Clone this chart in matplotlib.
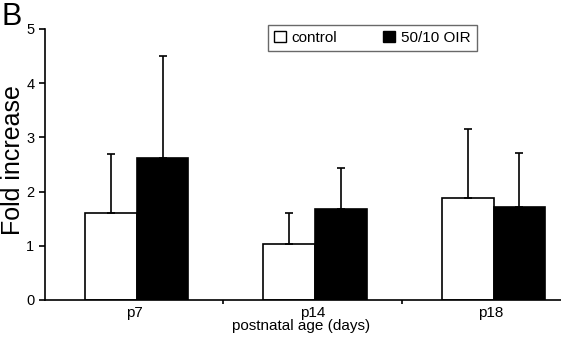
import numpy as np
import matplotlib
matplotlib.use("Agg")
import matplotlib.pyplot as plt
from matplotlib.patches import Patch

plt.rcParams['font.family'] = ['Liberation Sans', 'DejaVu Sans']

groups = ['p7', 'p14', 'p18']
control = [1.60, 1.04, 1.88]
control_err = [1.09, 0.56, 1.27]
oir = [2.61, 1.68, 1.71]
oir_err = [1.89, 0.75, 1.00]

fig = plt.figure(figsize=(5.61, 3.44), dpi=100)
ax = fig.add_axes([0.080, 0.128, 0.954, 0.788])

x = np.arange(len(groups)) + 0.5
w = 0.29
lw = 1.2
ax.bar(x - w / 2 + 0.015, control, w, color='white', edgecolor='black', linewidth=lw,
       yerr=[np.zeros(3), control_err], error_kw=dict(ecolor='black', elinewidth=lw, capsize=3, capthick=lw))
ax.bar(x + w / 2 + 0.015, oir, w, color='black', edgecolor='black', linewidth=lw,
       yerr=[np.zeros(3), oir_err], error_kw=dict(ecolor='black', elinewidth=lw, capsize=3, capthick=lw))

ax.set_xlim(0, 3)
ax.set_ylim(0, 5)
ax.spines['top'].set_visible(False)
ax.spines['right'].set_visible(False)
ax.spines['left'].set_linewidth(lw)
ax.spines['bottom'].set_linewidth(lw)
ax.set_yticks([0, 1, 2, 3, 4, 5])
ax.tick_params(axis='y', direction='out', length=4, width=lw, labelsize=10.5)
ax.set_xticks([1, 2])
ax.set_xticklabels([])
ax.tick_params(axis='x', direction='out', length=3, width=lw)
ax.set_xticks(x, minor=True)
ax.set_xticklabels(groups, minor=True)
ax.tick_params(axis='x', which='minor', length=0, labelsize=11, pad=4)

ax.set_ylabel('Fold increase', fontsize=18)
ax.yaxis.set_label_coords(-0.038, 0.517)
ax.set_xlabel('postnatal age (days)', fontsize=11)
ax.xaxis.set_label_coords(0.478, -0.072)

handles = [Patch(facecolor='white', edgecolor='black', label='control'),
           Patch(facecolor='black', edgecolor='black', label='50/10 OIR')]
leg = ax.legend(handles=handles, loc='upper left', bbox_to_anchor=(0.417, 1.015), ncol=2,
                frameon=True, fancybox=False, fontsize=11, handlelength=0.75, handleheight=0.75,
                columnspacing=3.0, handletextpad=0.4, borderpad=0.4, borderaxespad=0)
leg.get_frame().set_edgecolor('#444444')
leg.get_frame().set_linewidth(1.0)

fig.text(0.002, 0.995, 'B', fontsize=22, ha='left', va='top')

fig.savefig('out.png', dpi=100)
